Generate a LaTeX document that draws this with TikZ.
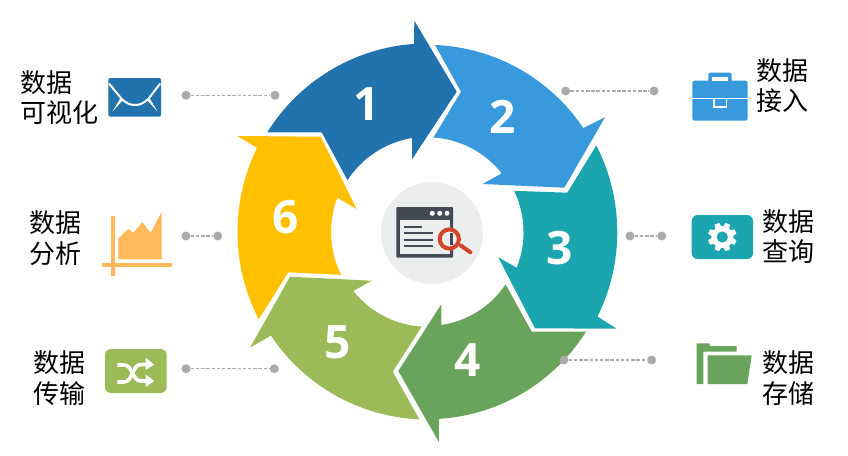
\documentclass[tikz,border=0pt]{standalone}
\usepackage{fontspec}
\setmainfont{Open Sans}
\newfontfamily\cjk{Noto Sans CJK SC}
\definecolor{cone}{HTML}{2172AD}
\definecolor{ctwo}{HTML}{3899DC}
\definecolor{cthree}{HTML}{1BA5AE}
\definecolor{cfour}{HTML}{6AA35B}
\definecolor{cfive}{HTML}{9BBB59}
\definecolor{csix}{HTML}{FFC000}
\definecolor{corange}{HTML}{FFB95A}
\definecolor{cdot}{HTML}{ABABAB}
\definecolor{cdisc}{HTML}{ECEEEE}
\definecolor{cdark}{HTML}{434A54}
\definecolor{clens}{HTML}{D2452A}
\tikzset{
  numlabel/.style={text=white,font=\fontsize{46}{46}\selectfont\bfseries,inner sep=0pt},
  textlabel/.style={text=black,font=\cjk\fontsize{26}{30.5}\selectfont,align=left,inner sep=0pt},
  dotnode/.style={circle,fill=cdot,inner sep=0pt,minimum size=9pt},
  leader/.style={draw=cdot,line width=1.2pt,dash pattern=on 3.5pt off 1.7pt}
}
\begin{document}
\begin{tikzpicture}[x=1pt,y=1pt,yscale=-1]
\useasboundingbox (0,0) rectangle (848,455);
% ring arrows
\fill[cone] (267.3,132.3) arc[start angle=-148.1,end angle=-94,radius=188.4pt]
  -- (414.3,20.7) -- (456.7,91.7) -- (412,159.3) -- (412,138)
  arc[start angle=-99.4,end angle=-147,radius=95.5pt] -- (321.7,132.3) -- cycle;
\fill[ctwo] (435,45) arc[start angle=-87.7,end angle=-33.8,radius=187.5pt]
  -- (605,117.3) -- (564.3,187.7) -- (482.7,184) -- (501.7,173.3)
  arc[start angle=-38.3,end angle=-86.4,radius=94.6pt] -- (461,91.7) -- cycle;
\fill[cthree] (596.3,145.4) arc[start angle=-27.2,end angle=26.4,radius=189.8pt]
  -- (616.7,328.7) -- (535,328.3) -- (498.3,257.3) -- (516.7,267.7)
  arc[start angle=21.8,end angle=-25.7,radius=95.5pt] -- (567.3,192.7) -- cycle;
\fill[cfour] (586,331.7) arc[start angle=32.2,end angle=86.5,radius=187.3pt]
  -- (439,442.3) -- (398.3,371) -- (441.3,304.3) -- (441.3,325)
  arc[start angle=81.6,end angle=33.9,radius=94pt] -- (531.7,331.7) -- cycle;
\fill[cfive] (419.3,419.3) arc[start angle=92.5,end angle=146.4,radius=188pt]
  -- (250,347.7) -- (290,276.7) -- (371.7,280.7) -- (353.3,291)
  arc[start angle=141.5,end angle=93.5,radius=94.8pt] -- (392.7,371.7) -- cycle;
\fill[csix] (258.8,319.3) arc[start angle=152.6,end angle=206.2,radius=190pt]
  -- (237.3,136) -- (320.7,136.7) -- (356.7,209) -- (337.3,197.7)
  arc[start angle=200.8,end angle=153.6,radius=96.5pt] -- (288.3,272.3) -- cycle;
\node[numlabel] (n1) at (366.5,104.5) {1};
\node[numlabel] (n2) at (503,117) {2};
\node[numlabel] (n3) at (560,248) {3};
\node[numlabel] (n4) at (467.5,360) {4};
\node[numlabel] (n5) at (338,342) {5};
\node[numlabel] (n6) at (286,217) {6};
% centre
\fill[cdisc] (431.8,233) circle[radius=51pt];
\fill[cdark,rounded corners=0.8pt] (396.3,207) rectangle (453,257.7);
\fill[cdisc] (400,220) rectangle (450,254);
\foreach \dx in {432.3,439.7,447} \fill[white] (\dx,213.3) circle[radius=2.5pt];
\fill[cdark] (404,226.4) rectangle (421.7,228.4);
\fill[cdark] (404,232.4) rectangle (432.7,234.4);
\fill[cdark] (404,239) rectangle (432.7,241);
\fill[cdark] (404,245) rectangle (432.7,247);
\fill[cdisc] (449.3,239) circle[radius=11.5pt];
\fill[cdark] (450,233) rectangle (452.8,245);
\draw[clens,line width=4pt] (449.3,239) circle[radius=9.6pt];
\draw[clens,line width=4pt,line cap=round] (460.7,245.5) -- (470.5,252.3);
% leaders
\node[dotnode] (a1) at (186,95.3) {};
\node[dotnode] (a2) at (275,95.3) {};
\draw[leader] (a1) -- (a2);
\node[dotnode] (b1) at (565.7,91) {};
\node[dotnode] (b2) at (654,91) {};
\draw[leader] (b1) -- (b2);
\node[dotnode] (c1) at (630,236) {};
\node[dotnode] (c2) at (661.7,236) {};
\draw[leader] (c1) -- (c2);
\node[dotnode] (d1) at (564,360) {};
\node[dotnode] (d2) at (651.7,360) {};
\draw[leader] (d1) -- (d2);
\node[dotnode] (e1) at (186,236) {};
\node[dotnode] (e2) at (217.7,236) {};
\draw[leader] (e1) -- (e2);
\node[dotnode] (f1) at (186,368.7) {};
\node[dotnode] (f2) at (274.3,368.7) {};
\draw[leader] (f1) -- (f2);
% labels
\node[textlabel,anchor=center] (t1) at (59,97.5) {数据\\可视化};
\node[textlabel,anchor=center] (t2) at (55.5,238) {数据\\分析};
\node[textlabel,anchor=center] (t3) at (59,378) {数据\\传输};
\node[textlabel,anchor=center] (t4) at (782,85.5) {数据\\接入};
\node[textlabel,anchor=center] (t5) at (788,236.5) {数据\\查询};
\node[textlabel,anchor=center] (t6) at (788.5,378) {数据\\存储};
% envelope
\fill[cone,rounded corners=2pt] (108.3,78) rectangle (161,116.7);
\draw[white,line width=2pt] (109,83.5) -- (121.7,99) .. controls (127,103.5) and (130,105) .. (135,105)
  .. controls (140,105) and (143,103.5) .. (148.3,99) -- (160.3,83.5);
\fill[white] (120.5,98) -- (112.3,111.7) -- (123,100) -- cycle;
\fill[white] (149.5,98) -- (157.7,111.7) -- (147,100) -- cycle;
% briefcase
\fill[ctwo,rounded corners=2.5pt] (692.3,80.7) rectangle (747.7,120.7);
\fill[ctwo,rounded corners=2pt] (708.3,72.7) rectangle (731.7,84);
\fill[white] (712.3,76.7) rectangle (728,80.7);
\draw[white,line width=1.6pt] (692.3,98.5) -- (747.7,98.5);
\draw[white,line width=1.4pt,fill=ctwo] (713.8,98.7) rectangle (726.2,106.8);
% gear
\fill[cthree,rounded corners=6pt] (691.7,215) rectangle (753,259);
\fill[white] (722.3,237) circle[radius=11pt];
\foreach \ang in {0,45,...,315}
  \fill[white,shift={(722.3,237)},rotate=\ang+22.5] (9,-3.4) -- (14.3,-2.4) -- (14.3,2.4) -- (9,3.4) -- cycle;
\fill[cthree] (722.3,237) circle[radius=5.6pt];
% chart
\fill[corange] (111,216) rectangle (115,276);
\fill[corange] (101.7,262.7) rectangle (172.3,267);
\fill[corange] (118.3,238.3) -- (128.3,229) -- (133.3,232.7) -- (142.3,222.3) -- (150.7,232.7) -- (161.7,211.7) -- (161.7,259.3) -- (118.3,259.3) -- cycle;
% shuffle
\fill[cfive,rounded corners=6pt] (105,349) rectangle (166.7,393);
\draw[white,line width=3.6pt] (117.3,365) -- (124,365) .. controls (133,365) and (132,381) .. (141,381) -- (147,381);
\draw[white,line width=3.6pt] (117.3,382) -- (124,382) .. controls (133,382) and (132,364.5) .. (141,364.5) -- (147,364.5);
\fill[white] (145.7,358) -- (154.3,364.5) -- (145.7,370) -- cycle;
\fill[white] (145.7,374.5) -- (154.3,381) -- (145.7,387) -- cycle;
% folder
\fill[cfour] (696.7,343.3) -- (709,343.3) -- (710,346) -- (736.7,346) -- (736.7,351.7) -- (703.3,351.7) -- (703.3,384) -- (696.7,384) -- cycle;
\fill[cfour] (707.7,355.3) -- (751.7,355.3) -- (747.3,384) -- (707.7,384) -- cycle;
\end{tikzpicture}
\end{document}
